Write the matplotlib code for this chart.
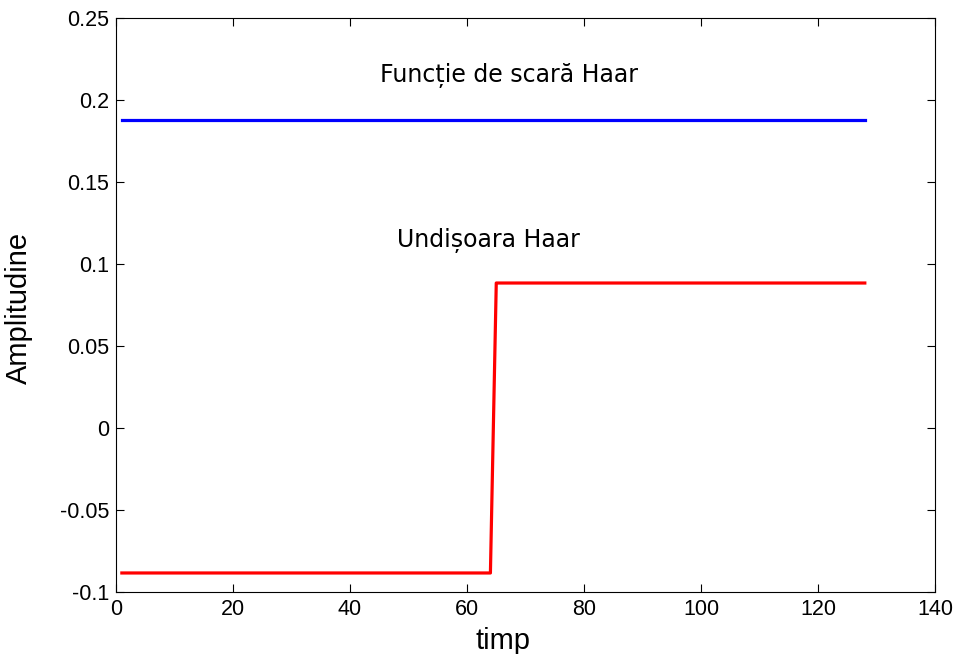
import numpy as np
import matplotlib
matplotlib.use("Agg")
import matplotlib.pyplot as plt

# Haar scaling function and wavelet sampled on 128 points
n = np.arange(1, 129)
scale_level = 0.1875
wavelet_level = 0.0884
scaling = np.full(n.size, scale_level)
wavelet = np.where(n <= 64, -wavelet_level, wavelet_level)

plt.rcParams["font.family"] = ["Liberation Sans", "DejaVu Sans"]

fig = plt.figure(figsize=(9.58, 6.54), dpi=100)
ax = fig.add_axes([0.1211, 0.0948, 0.8549, 0.8777])

ax.plot(n, scaling, color="#0000ff", linewidth=2.3)
ax.plot(n, wavelet, color="#ff0000", linewidth=2.3)

ax.text(67.2, 0.215, "Funcție de scară Haar", ha="center", va="center",
        fontsize=17, family="DejaVu Sans")
ax.text(63.7, 0.1146, "Undișoara Haar", ha="center", va="center",
        fontsize=17, family="DejaVu Sans")

ax.set_xlim(0, 140)
ax.set_ylim(-0.1, 0.25)
ax.set_xticks(np.arange(0, 141, 20))
ax.set_yticks([-0.1, -0.05, 0, 0.05, 0.1, 0.15, 0.2, 0.25])
ax.set_yticklabels(["-0.1", "-0.05", "0", "0.05", "0.1", "0.15", "0.2", "0.25"])
ax.tick_params(direction="in", top=True, right=True, length=6, width=0.8,
               labelsize=15.5, pad=5)
ax.set_xlabel("timp", fontsize=21)
ax.set_ylabel("Amplitudine", fontsize=21)
ax.xaxis.set_label_coords(0.472, -0.061)
ax.yaxis.set_label_coords(-0.1013, 0.495)

fig.savefig("out.png", dpi=100)
